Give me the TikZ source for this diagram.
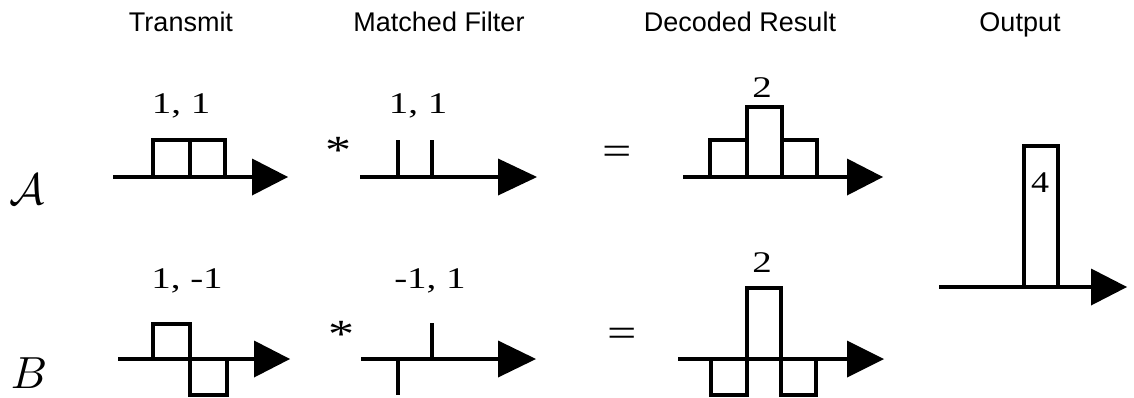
\documentclass[tikz,border=0pt]{standalone}
\usepackage{fontspec}
\usepackage{graphicx}
\setmainfont{Liberation Serif}
\newfontfamily\hdrfont{Liberation Sans}
\newcommand{\sigaxis}[5]{% #1 name, #2 start x, #3 y, #4 base x, #5 tip x
  \coordinate (#1s) at (#2,#3);
  \coordinate (#1b) at (#4,#3);
  \coordinate (#1t) at (#5,#3);
  \draw (#1s) -- (#1b);
  \fill (#4,#3-18.5) -- (#1t) -- (#4,#3+18.5) -- cycle;}
\begin{document}
\begin{tikzpicture}[x=1pt,y=-1pt,line width=3.3pt,
  hdr/.style={font=\hdrfont\fontsize{27}{30}\selectfont,anchor=base,inner sep=0pt},
  num/.style={font=\fontsize{30}{34}\selectfont,anchor=base,inner sep=0pt},
  opsym/.style={font=\fontsize{40}{44}\selectfont,inner sep=0pt},
  rowlbl/.style={inner sep=0pt}]
\useasboundingbox (0,0) rectangle (1134,397);

% headers
\node[hdr] (h1) at (181,31) {Transmit};
\node[hdr] (h2) at (439,31) {Matched Filter};
\node[hdr] (h3) at (740,31) {Decoded Result};
\node[hdr] (h4) at (1020,31) {Output};

% row labels
\node[rowlbl] (la) at (27,189) {\scalebox{4.4}{$\mathcal{A}$}};
\node[rowlbl] (lb) at (29,373) {\scalebox{4.5}{$B$}};

% ---------- row A ----------
\sigaxis{ta}{113}{177}{252}{288}
\draw (153,177) rectangle (190,140);
\draw (190,177) rectangle (225,140);
\node[num] (tal) at (181,113) {\scalebox{1.3}[1]{1, 1}};

\node[opsym] (sa) at (338,150) {\scalebox{1.3}[1]{*}};
\sigaxis{ma}{360}{177}{498}{537}
\draw (398,177) -- (398,140);
\draw (432,177) -- (432,140);
\node[num] (mal) at (418,113) {\scalebox{1.3}[1]{1, 1}};

\node[opsym] (ea) at (617,155) {\scalebox{1.3}[1]{=}};
\sigaxis{da}{683}{177}{847}{883}
\draw (710,177) rectangle (747,140);
\draw (747,177) rectangle (782,107);
\draw (782,177) rectangle (817,140);
\node[num] (dal) at (762,97) {\scalebox{1.3}[1]{2}};

% ---------- row B ----------
\sigaxis{tb}{118}{359}{254}{290}
\draw (153,359) rectangle (190,324);
\draw (190,359) rectangle (227,395);
\node[num] (tbl) at (187,288) {\scalebox{1.3}[1]{1, -1}};

\node[opsym] (sb) at (341,334) {\scalebox{1.3}[1]{*}};
\sigaxis{mb}{361}{359}{498}{536}
\draw (398,359) -- (398,395);
\draw (432,359) -- (432,323);
\node[num] (mbl) at (430,288) {\scalebox{1.3}[1]{-1, 1}};

\node[opsym] (eb) at (622,337) {\scalebox{1.3}[1]{=}};
\sigaxis{db}{678}{359}{847}{884}
\draw (711,359) rectangle (747,395);
\draw (747,359) rectangle (781,288);
\draw (781,359) rectangle (816,395);
\node[num] (dbl) at (762,272) {\scalebox{1.3}[1]{2}};

% ---------- output ----------
\sigaxis{ou}{939}{287}{1091}{1127}
\draw (1024,287) rectangle (1058,146);
\node[num] (four) at (1040,192) {\scalebox{1.2}[1]{4}};
\end{tikzpicture}
\end{document}
